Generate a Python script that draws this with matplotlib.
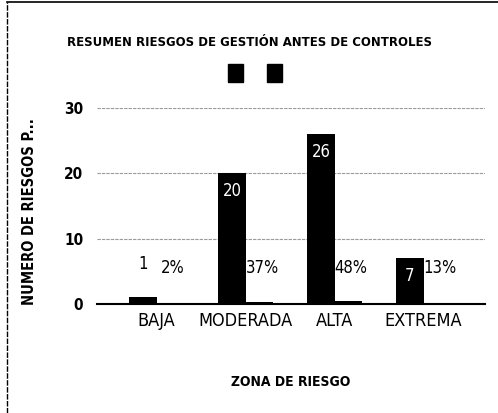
import matplotlib
matplotlib.use("Agg")
import matplotlib.pyplot as plt
from matplotlib.patches import Patch
from matplotlib.lines import Line2D
import numpy as np

# datos
zonas = ["BAJA", "MODERADA", "ALTA", "EXTREMA"]
num_riesgos = [1, 20, 26, 7]
porcentaje = [0.02, 0.37, 0.48, 0.13]
etiquetas_pct = ["2%", "37%", "48%", "13%"]

plt.rcParams['font.family'] = ['DejaVu Sans']
plt.rcParams['font.stretch'] = 'condensed'

fig = plt.figure(figsize=(4.98, 4.13), dpi=100)
ax = fig.add_axes([0.195, 0.264, 0.779, 0.474])

x = np.arange(len(zonas))
w = 0.31
ax.bar(x - w / 2, num_riesgos, w, color="black", zorder=3)
ax.bar(x + w / 2, porcentaje, w, color="black", zorder=3)

# etiquetas de datos
for xi, v in zip(x, num_riesgos):
    if v > 5:
        ax.text(xi - w / 2, v - 2.7, str(v), color="white", ha="center", va="center",
                fontsize=12, zorder=4)
    else:
        ax.text(xi - w / 2, 6.2, str(v), color="black", ha="center", va="center",
                fontsize=12, zorder=4)
for xi, t in zip(x, etiquetas_pct):
    ax.text(xi + w / 2 + 0.03, 5.5, t, color="black", ha="center", va="center",
            fontsize=12, zorder=4)

ax.set_xlim(-0.67, 3.69)
ax.set_ylim(0, 30)
ax.set_yticks([0, 10, 20, 30])
ax.set_xticks(x)
ax.set_xticklabels(zonas, fontsize=13)
ax.tick_params(axis="y", labelsize=11, length=0, pad=10)
ax.tick_params(axis="x", length=0, pad=6)
for lab in ax.get_yticklabels():
    lab.set_fontweight("bold")

ax.grid(axis="y", color="#9a9a9a", linewidth=0.8, linestyle=(0, (3, 1)), zorder=0)
for s in ["top", "right", "left"]:
    ax.spines[s].set_visible(False)
ax.spines["bottom"].set_linewidth(1.5)
ax.spines["bottom"].set_zorder(5)

ax.set_xlabel("ZONA DE RIESGO", fontsize=10, fontweight="bold")
ax.set_ylabel("NUMERO DE RIESGOS P...", fontsize=10.5, fontweight="bold")
ax.yaxis.set_label_coords(-0.155, 0.47)
ax.xaxis.set_label_coords(0.5, -0.365)

fig.text(0.5, 0.897, "RESUMEN RIESGOS DE GESTIÓN ANTES DE CONTROLES", ha="center",
         va="center", fontsize=9.4, fontweight="bold")

handles = [Patch(color="black"), Patch(color="black")]
fig.legend(handles, ["", ""], loc="center", bbox_to_anchor=(0.512, 0.823), ncol=2,
           frameon=False, handlelength=1.1, handleheight=1.6, handletextpad=0,
           columnspacing=1.7, fontsize=10)

# borde de la imagen
fig.add_artist(Line2D([0.014, 0.014], [0.0, 0.995], color="black", linewidth=1,
                      linestyle=(0, (4, 1))))
fig.add_artist(Line2D([0.014, 1.0], [0.995, 0.995], color="black", linewidth=1.2))

fig.savefig("out.png", dpi=100)
